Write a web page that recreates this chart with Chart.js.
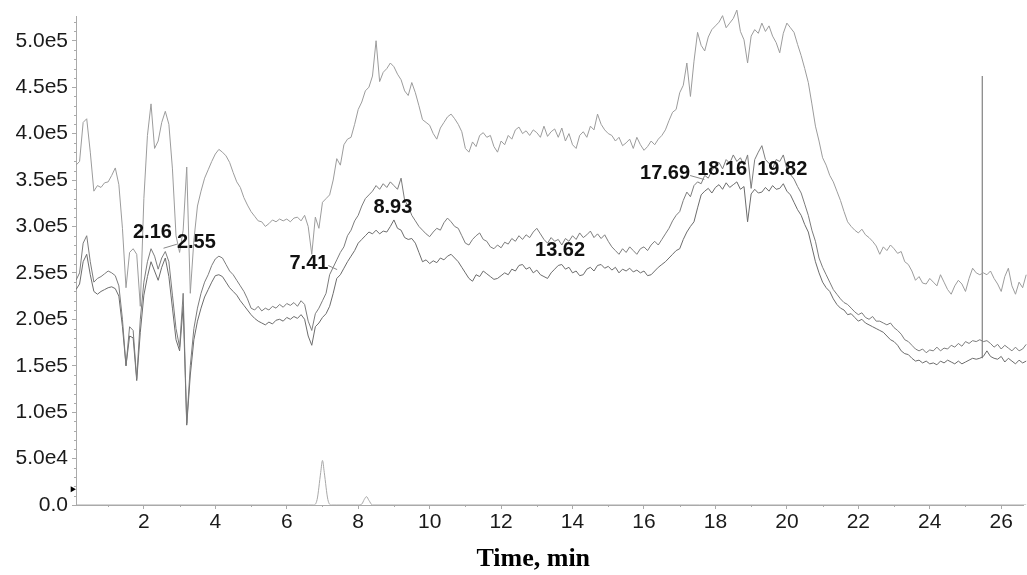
<!DOCTYPE html>
<html><head><meta charset="utf-8">
<script src="https://cdn.jsdelivr.net/npm/chart.js@4.4.0/dist/chart.umd.min.js"></script>
<style>html,body{margin:0;padding:0;background:#fff;}canvas{display:block;}</style>
</head><body>
<canvas id="c" width="1027" height="575"></canvas>
<script>
// Retention time grid (min)
const times = [
0.1,0.2,0.3,0.4,0.5,0.6,0.7,0.8,0.9,1.0,
1.1,1.2,1.3,1.4,1.5,1.6,1.7,1.8,1.9,2.0,
2.1,2.2,2.3,2.4,2.5,2.6,2.7,2.8,2.9,3.0,
3.1,3.2,3.3,3.4,3.5,3.6,3.7,3.8,3.9,4.0,
4.1,4.2,4.3,4.4,4.5,4.6,4.7,4.8,4.9,5.0,
5.1,5.2,5.3,5.4,5.5,5.6,5.7,5.8,5.9,6.0,
6.1,6.2,6.3,6.4,6.5,6.6,6.7,6.8,6.9,7.0,
7.1,7.2,7.3,7.4,7.5,7.6,7.7,7.8,7.9,8.0,
8.1,8.2,8.3,8.4,8.5,8.6,8.7,8.8,8.9,9.0,
9.1,9.2,9.3,9.4,9.5,9.6,9.7,9.8,9.9,10.0,
10.1,10.2,10.3,10.4,10.5,10.6,10.7,10.8,10.9,11.0,
11.1,11.2,11.3,11.4,11.5,11.6,11.7,11.8,11.9,12.0,
12.1,12.2,12.3,12.4,12.5,12.6,12.7,12.8,12.9,13.0,
13.1,13.2,13.3,13.4,13.5,13.6,13.7,13.8,13.9,14.0,
14.1,14.2,14.3,14.4,14.5,14.6,14.7,14.8,14.9,15.0,
15.1,15.2,15.3,15.4,15.5,15.6,15.7,15.8,15.9,16.0,
16.1,16.2,16.3,16.4,16.5,16.6,16.7,16.8,16.9,17.0,
17.1,17.2,17.3,17.4,17.5,17.6,17.7,17.8,17.9,18.0,
18.1,18.2,18.3,18.4,18.5,18.6,18.7,18.8,18.9,19.0,
19.1,19.2,19.3,19.4,19.5,19.6,19.7,19.8,19.9,20.0,
20.1,20.2,20.3,20.4,20.5,20.6,20.7,20.8,20.9,21.0,
21.1,21.2,21.3,21.4,21.5,21.6,21.7,21.8,21.9,22.0,
22.1,22.2,22.3,22.4,22.5,22.6,22.7,22.8,22.9,23.0,
23.1,23.2,23.3,23.4,23.5,23.6,23.7,23.8,23.9,24.0,
24.1,24.2,24.3,24.4,24.5,24.6,24.7,24.8,24.9,25.0,
25.1,25.2,25.3,25.4,25.5,25.6,25.7,25.8,25.9,26.0,
26.1,26.2,26.3,26.4,26.5,26.6,26.7];

// Intensities in thousands of counts
const upperK = [
366,370,412,416,380,338,344,342,347,348,
355,363,345,298,234,272,276,270,214,330,
398,432,384,392,412,424,410,362,290,272,
296,364,228,285,322,338,352,361,370,378,
383,380,376,369,358,348,342,331,323,316,
311,306,305,300,303,307,305,308,306,308,
305,309,310,306,312,300,270,310,298,326,
330,334,350,373,366,388,394,396,410,426,
434,446,450,462,500,456,466,470,476,472,
464,458,446,441,455,444,430,415,412,409,
400,394,406,412,418,421,416,410,402,384,
380,391,386,398,401,396,398,386,380,392,
388,398,394,404,407,400,403,398,404,401,
396,408,397,402,405,396,406,392,400,388,
384,398,402,396,408,404,421,410,404,400,
398,392,396,387,390,394,384,396,388,382,
386,392,388,394,398,404,414,423,426,444,
452,476,440,478,509,495,489,504,512,516,
520,527,514,519,524,533,510,501,476,505,
512,508,519,510,516,505,498,487,508,519,
514,509,496,484,470,455,432,408,392,374,
366,355,348,338,328,316,305,300,296,293,
297,291,288,284,279,270,278,274,280,276,
271,273,262,259,252,242,246,239,238,244,
240,236,248,240,232,227,236,242,238,230,
244,255,250,248,250,248,252,244,238,230,
246,255,236,227,240,234,248];

const middleK = [
242,250,282,290,262,240,244,246,249,252,
250,247,236,200,150,192,188,136,200,240,
262,276,268,254,266,273,262,226,190,170,
228,88,150,190,212,228,240,248,258,265,
268,266,259,252,248,242,236,230,222,212,
210,214,209,212,210,214,212,216,213,217,
215,218,214,220,216,198,188,206,212,220,
228,248,256,264,272,278,290,296,306,312,
322,330,334,338,344,340,346,342,348,344,
340,352,328,322,312,306,300,296,292,289,
294,298,296,304,309,305,300,298,290,282,
280,286,290,293,286,284,278,276,280,277,
283,281,287,284,290,286,291,288,294,298,
292,286,282,288,284,286,280,287,284,290,
286,293,288,291,295,288,292,287,291,284,
278,274,270,276,272,278,274,270,276,278,
274,280,284,280,286,292,298,306,312,316,
328,337,332,344,348,346,355,352,360,366,
369,362,372,368,377,370,374,366,377,341,
372,380,387,372,368,362,372,370,377,362,
356,351,343,336,324,312,296,284,266,256,
248,240,232,227,222,218,216,212,208,205,
207,202,200,203,198,198,196,194,196,191,
188,184,178,176,172,168,166,168,164,167,
166,170,166,169,168,172,170,174,171,176,
174,177,176,178,176,177,174,170,173,168,
172,169,166,170,166,168,173];

const lowerK = [
232,238,262,270,248,230,227,230,232,234,
235,233,225,192,150,182,180,134,186,226,
246,262,252,242,256,266,246,212,178,166,
214,86,140,178,198,212,224,232,240,247,
248,246,240,234,230,226,220,215,210,205,
201,198,196,194,197,195,199,200,198,202,
200,203,201,205,200,182,172,192,196,202,
206,214,228,244,248,255,262,268,274,282,
286,290,294,292,296,292,295,294,300,307,
298,296,288,286,287,282,272,262,264,260,
263,261,266,264,268,270,266,262,256,250,
244,241,248,246,252,249,246,243,244,247,
250,248,254,252,258,259,254,256,250,253,
248,246,244,250,254,258,259,254,256,250,
252,247,248,254,256,252,258,259,255,257,
253,256,250,254,252,255,251,253,250,252,
247,248,252,256,259,262,266,270,274,276,
286,294,300,305,320,334,338,341,336,342,
345,340,347,342,345,348,340,343,305,335,
340,336,337,342,338,344,340,341,346,338,
334,326,318,312,302,294,278,262,250,240,
234,230,222,216,212,210,205,206,202,198,
200,196,194,192,190,188,186,182,178,176,
172,166,163,162,158,155,156,153,155,152,
153,151,155,153,156,154,152,155,152,154,
156,158,157,158,160,166,160,158,157,160,
154,158,155,152,156,153,155];

// Baseline trace (near zero) with two small peaks
const baseTimes = [0.1,6.6,6.75,6.85,6.95,7.0,7.05,7.15,7.25,7.4,8.0,8.1,8.17,8.23,8.3,8.4,26.7];
const baseK     = [0,  0,  0,   6,   35,  48, 35,  6,   0,   0,  0,  1,  6,   9,   5,  0,  0];

// Spike at ~25.47 min
const spikeTimes = [25.47, 25.47];
const spikeK = [158, 462];

// Peak annotations
const peakLabels   = ['2.16','2.55','7.41','8.93','13.62','17.69','18.16','19.82'];
const peakTimes    = [2.16, 2.55, 7.41, 8.93, 13.62, 17.69, 18.16, 19.82];
const labelTimes   = [2.24, 3.47, 6.62, 8.97, 13.65, 16.59, 18.19, 19.87];
const labelLevelsK = [294, 283, 260, 320, 274, 357, 361, 361];

// Ticks
const xTickValues = [2,4,6,8,10,12,14,16,18,20,22,24,26];
const xMinorTicks = [1,3,5,7,9,11,13,15,17,19,21,23,25];
const yTickValues = [0,50000,100000,150000,200000,250000,300000,350000,400000,450000,500000];
const yMinorTicks = [10000,20000,30000,40000,60000,70000,80000,90000,110000,120000,130000,140000,
  160000,170000,180000,190000,210000,220000,230000,240000,260000,270000,280000,290000,
  310000,320000,330000,340000,360000,370000,380000,390000,410000,420000,430000,440000,
  460000,470000,480000,490000,510000,520000];

const markerTime = 0.0, markerK = 17;

function fmtY(v){
  if (v === 0) return '0.0';
  const e = Math.floor(Math.log10(v));
  return (v/Math.pow(10,e)).toFixed(1) + 'e' + e;
}
const pts = (xs, ys) => xs.map((t,i)=>({x:t, y:ys[i]*1000}));
const overflowClip = {left:0, top:12, right:6, bottom:0};

const annot = {
  id:'annot',
  afterDatasetsDraw(chart){
    const {ctx, scales:{x,y}} = chart;
    ctx.save();
    ctx.font = 'bold 20px "Liberation Sans", Arial, sans-serif';
    ctx.fillStyle = '#111';
    ctx.textAlign = 'center'; ctx.textBaseline = 'middle';
    peakLabels.forEach((txt,i)=>{
      const px = x.getPixelForValue(labelTimes[i]);
      const py = y.getPixelForValue(labelLevelsK[i]*1000);
      ctx.fillText(txt, px, py);
      const rt = x.getPixelForValue(peakTimes[i]);
      const w = ctx.measureText(txt).width;
      if (Math.abs(rt-px) > w/2) {
        const sx = rt < px ? px - w/2 : px + w/2;
        ctx.strokeStyle = '#888'; ctx.lineWidth = 1;
        ctx.beginPath(); ctx.moveTo(sx, py+2); ctx.lineTo(rt, py+6); ctx.stroke();
      }
    });
    ctx.restore();
  },
  afterDraw(chart){
    const {ctx, scales:{x,y}, chartArea:a} = chart;
    ctx.save(); ctx.strokeStyle = '#aaa'; ctx.lineWidth = 1; ctx.beginPath();
    xMinorTicks.forEach(t=>{ const px = Math.round(x.getPixelForValue(t))+0.5; ctx.moveTo(px, a.bottom); ctx.lineTo(px, a.bottom+2); });
    yMinorTicks.forEach(v=>{ const py = Math.round(y.getPixelForValue(v))+0.5; ctx.moveTo(a.left-2, py); ctx.lineTo(a.left, py); });
    ctx.stroke(); ctx.restore();
  }
};

Chart.defaults.font.family = '"Liberation Sans", Arial, sans-serif';
new Chart(document.getElementById('c'), {
  type: 'line',
  data: { datasets: [
    {data: pts(times, upperK), borderColor:'#9c9c9c', borderWidth:1, pointRadius:0, tension:0, clip:overflowClip},
    {data: pts(times, middleK), borderColor:'#7c7c7c', borderWidth:1, pointRadius:0, tension:0, clip:overflowClip},
    {data: pts(times, lowerK), borderColor:'#6c6c6c', borderWidth:1, pointRadius:0, tension:0, clip:overflowClip},
    {data: pts(baseTimes, baseK), borderColor:'#a8a8a8', borderWidth:1, pointRadius:0, cubicInterpolationMode:'monotone', clip:overflowClip},
    {data: pts(spikeTimes, spikeK), borderColor:'#808080', borderWidth:1.2, pointRadius:0},
    {data: [{x:markerTime, y:markerK*1000}], showLine:false, pointStyle:'triangle', rotation:90, pointRadius:3.5,
     pointBackgroundColor:'#000', pointBorderWidth:0, clip:false}
  ]},
  options: {
    responsive:false, animation:false, devicePixelRatio:1,
    layout:{padding:{top:10,right:0,bottom:0,left:0}},
    plugins:{legend:{display:false}, tooltip:{enabled:false}},
    scales:{
      x:{type:'linear', min:0.1, max:26.61,
        afterBuildTicks: s => { s.ticks = xTickValues.map(v=>({value:v})); },
        afterFit: s => { s.height = 70; },
        ticks:{color:'#1a1a1a', font:{size:21}, padding:1, maxRotation:0, autoSkip:false},
        grid:{drawOnChartArea:false, drawTicks:true, tickLength:4, color:'#aaa'},
        border:{color:'#aaa', width:1},
        title:{display:true, text:'Time, min\u00a0\u00a0\u00a0\u00a0\u00a0', color:'#000',
          font:{family:'"Liberation Serif", "Times New Roman", serif', size:26, weight:'bold'}, padding:{top:0,bottom:0}}
      },
      y:{min:0, max:526000,
        afterBuildTicks: s => { s.ticks = yTickValues.map(v=>({value:v})); },
        afterFit: s => { s.width = 76; },
        ticks:{color:'#1a1a1a', font:{size:21}, padding:4, callback: v => fmtY(v)},
        grid:{drawOnChartArea:false, drawTicks:true, tickLength:4, color:'#aaa'},
        border:{color:'#aaa', width:1}
      }
    }
  },
  plugins:[annot]
});
</script>
</body></html>
